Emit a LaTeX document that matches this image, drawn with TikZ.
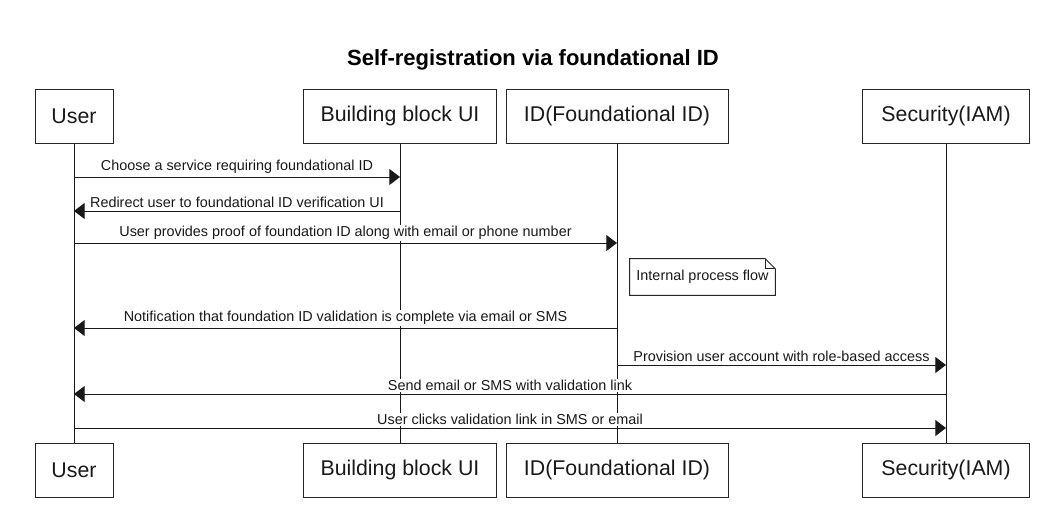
\documentclass[tikz,border=0pt]{standalone}
\usepackage{fontspec}
\setmainfont{Liberation Sans}
\usetikzlibrary{arrows.meta}
\begin{document}
\begin{tikzpicture}[x=0.75pt,y=-0.75pt,
  part/.style={draw=black!85, line width=0.75pt, minimum height=40.5pt, inner sep=0pt, font=\fontsize{16}{19}\selectfont, text=black!90},
  life/.style={draw=black!90, line width=0.75pt},
  msg/.style={draw=black!90, line width=0.75pt, -{Triangle[length=8pt,width=12pt]}},
  lbl/.style={font=\fontsize{10.8}{13}\selectfont, inner xsep=1pt, inner ysep=1pt, above, yshift=1pt, fill=white, text=black!90},
  notebox/.style={font=\fontsize{10.8}{13}\selectfont, inner sep=0pt, minimum width=108.75pt, minimum height=27pt, text=black!90}
]
\useasboundingbox (0,0) rectangle (1055,508);
\node[font=\bfseries\fontsize{16.5}{20}\selectfont] (title) at (533,60) {Self-registration via foundational ID};

\node[part, minimum width=58.5pt] (userT) at (74,116) {User};
\node[part, minimum width=144.75pt] (bbT) at (400,116) {Building block UI};
\node[part, minimum width=166.5pt] (idT) at (617,116) {ID(Foundational ID)};
\node[part, minimum width=125.25pt] (secT) at (946,116) {Security(IAM)};

\node[part, minimum width=58.5pt] (userB) at (74,470) {User};
\node[part, minimum width=144.75pt] (bbB) at (400,470) {Building block UI};
\node[part, minimum width=166.5pt] (idB) at (617,470) {ID(Foundational ID)};
\node[part, minimum width=125.25pt] (secB) at (946,470) {Security(IAM)};

\draw[life] (userT) -- (userB);
\draw[life] (bbT) -- (bbB);
\draw[life] (idT) -- (idB);
\draw[life] (secT) -- (secB);

% note
\node[notebox] (note) at (702.5,277) {Internal process flow};
\draw[line width=0.75pt, draw=black!85, fill=white] (note.north west) -- ([xshift=-7.5pt]note.north east) -- ([yshift=-7.5pt]note.north east) -- (note.south east) -- (note.south west) -- cycle;
\draw[line width=0.75pt, draw=black!85] ([xshift=-7.5pt]note.north east) -- ([xshift=-7.5pt,yshift=-7.5pt]note.north east) -- ([yshift=-7.5pt]note.north east);
\node[notebox] at (note) {Internal process flow};

% message end points
\coordinate (m1a) at (74,177);  \coordinate (m1b) at (400,177);
\coordinate (m2a) at (400,211); \coordinate (m2b) at (74,211);
\coordinate (m3a) at (74,243);  \coordinate (m3b) at (617,243);
\coordinate (m4a) at (617,328); \coordinate (m4b) at (74,328);
\coordinate (m5a) at (617,365); \coordinate (m5b) at (946,365);
\coordinate (m6a) at (946,394); \coordinate (m6b) at (74,394);
\coordinate (m7a) at (74,428);  \coordinate (m7b) at (946,428);

\draw[msg] (m1a) -- node[lbl] {Choose a service requiring foundational ID} (m1b);
\draw[msg] (m2a) -- node[lbl] {Redirect user to foundational ID verification UI} (m2b);
\draw[msg] (m3a) -- node[lbl] {User provides proof of foundation ID along with email or phone number} (m3b);
\draw[msg] (m4a) -- node[lbl] {Notification that foundation ID validation is complete via email or SMS} (m4b);
\draw[msg] (m5a) -- node[lbl] {Provision user account with role-based access} (m5b);
\draw[msg] (m6a) -- node[lbl] {Send email or SMS with validation link} (m6b);
\draw[msg] (m7a) -- node[lbl] {User clicks validation link in SMS or email} (m7b);
\end{tikzpicture}
\end{document}
